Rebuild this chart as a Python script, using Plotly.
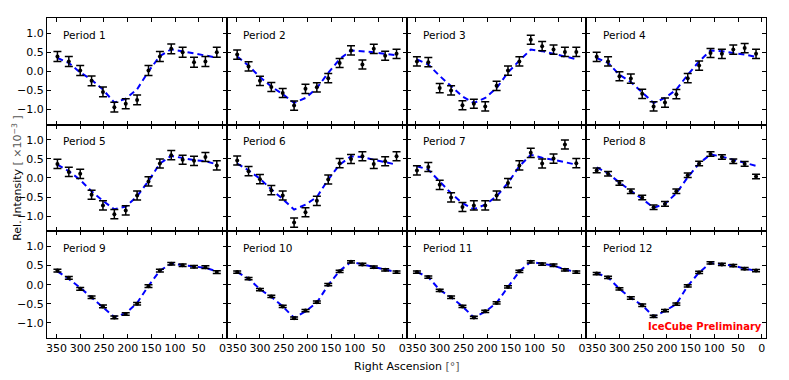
import plotly.graph_objects as go
from plotly.subplots import make_subplots

# bin centres in right ascension (deg)
ra_bins = [348, 324, 300, 276, 252, 228, 204, 180, 156, 132, 108, 84, 60, 36, 12]

period_names = ["Period %d" % i for i in range(1, 13)]

rel_intensity = [
    [0.39, 0.26, 0.02, -0.25, -0.54, -0.94, -0.85, -0.75, 0.02, 0.39, 0.59, 0.50, 0.24, 0.26, 0.50],
    [0.44, 0.13, -0.25, -0.41, -0.57, -0.90, -0.46, -0.42, -0.18, 0.22, 0.55, 0.18, 0.59, 0.41, 0.46],
    [0.26, 0.24, -0.44, -0.50, -0.89, -0.85, -0.92, -0.38, 0.02, 0.26, 0.83, 0.66, 0.57, 0.51, 0.51],
    [0.38, 0.26, -0.13, -0.19, -0.59, -0.92, -0.82, -0.60, -0.18, 0.15, 0.48, 0.46, 0.57, 0.61, 0.46],
    [0.37, 0.16, 0.11, -0.44, -0.72, -0.95, -0.85, -0.46, -0.09, 0.38, 0.60, 0.48, 0.45, 0.55, 0.33],
    [0.46, 0.18, -0.03, -0.32, -0.46, -1.17, -0.90, -0.60, -0.04, 0.39, 0.50, 0.57, 0.37, 0.44, 0.57],
    [0.20, 0.29, -0.18, -0.51, -0.76, -0.72, -0.72, -0.46, -0.13, 0.33, 0.66, 0.38, 0.51, 0.88, 0.39],
    [0.20, 0.11, -0.13, -0.35, -0.51, -0.77, -0.68, -0.35, 0.07, 0.38, 0.63, 0.55, 0.44, 0.37, 0.04],
    [0.37, 0.18, -0.11, -0.33, -0.57, -0.86, -0.77, -0.50, -0.04, 0.37, 0.55, 0.51, 0.47, 0.46, 0.33],
    [0.33, 0.16, -0.13, -0.31, -0.57, -0.88, -0.68, -0.46, 0.00, 0.35, 0.60, 0.53, 0.46, 0.39, 0.33],
    [0.33, 0.20, -0.15, -0.33, -0.57, -0.86, -0.70, -0.48, -0.06, 0.35, 0.60, 0.54, 0.51, 0.39, 0.33],
    [0.29, 0.19, -0.11, -0.35, -0.54, -0.83, -0.68, -0.51, -0.03, 0.32, 0.57, 0.53, 0.50, 0.42, 0.37],
]

# one statistical error per period
period_err = [0.13, 0.12, 0.12, 0.12, 0.12, 0.12, 0.12, 0.06, 0.035, 0.03, 0.03, 0.03]

fit_values = [
    [0.35, 0.22, -0.03, -0.22, -0.48, -0.82, -0.72, -0.47, 0.00, 0.40, 0.58, 0.52, 0.46, 0.42, 0.36],
    [0.39, 0.15, -0.15, -0.40, -0.60, -0.83, -0.70, -0.44, -0.04, 0.32, 0.55, 0.53, 0.50, 0.46, 0.42],
    [0.31, 0.18, -0.12, -0.40, -0.66, -0.83, -0.70, -0.44, -0.03, 0.28, 0.57, 0.53, 0.46, 0.39, 0.32],
    [0.35, 0.22, -0.09, -0.28, -0.55, -0.83, -0.70, -0.48, -0.09, 0.26, 0.55, 0.53, 0.48, 0.44, 0.38],
    [0.35, 0.18, -0.05, -0.35, -0.60, -0.82, -0.75, -0.48, -0.08, 0.38, 0.58, 0.52, 0.47, 0.44, 0.36],
    [0.38, 0.20, -0.02, -0.30, -0.55, -0.83, -0.70, -0.50, -0.04, 0.35, 0.57, 0.55, 0.48, 0.41, 0.35],
    [0.31, 0.22, -0.09, -0.40, -0.66, -0.82, -0.70, -0.48, -0.13, 0.31, 0.61, 0.53, 0.48, 0.41, 0.35],
    [0.28, 0.12, -0.12, -0.33, -0.55, -0.78, -0.68, -0.40, 0.02, 0.38, 0.62, 0.56, 0.48, 0.42, 0.32],
    [0.35, 0.15, -0.08, -0.33, -0.58, -0.85, -0.75, -0.48, -0.03, 0.37, 0.55, 0.52, 0.48, 0.44, 0.35],
    [0.33, 0.16, -0.12, -0.32, -0.57, -0.87, -0.70, -0.47, -0.01, 0.36, 0.60, 0.53, 0.46, 0.39, 0.33],
    [0.33, 0.20, -0.14, -0.33, -0.57, -0.86, -0.71, -0.48, -0.06, 0.35, 0.60, 0.54, 0.50, 0.40, 0.33],
    [0.30, 0.19, -0.11, -0.35, -0.54, -0.84, -0.69, -0.51, -0.03, 0.32, 0.57, 0.53, 0.50, 0.42, 0.37],
]

x_ticks = [0, 50, 100, 150, 200, 250, 300, 350]
y_ticks = [-1.0, -0.5, 0.0, 0.5, 1.0]
y_ticktext = ["\u22121.0", "\u22120.5", "0.0", "0.5", "1.0"]

FONT = "DejaVu Sans"

fig = make_subplots(rows=3, cols=4, horizontal_spacing=0, vertical_spacing=0)

for i, name in enumerate(period_names):
    r, c = i // 4 + 1, i % 4 + 1

    fig.add_hline(y=0, line=dict(color="black", width=1.5, dash="5px,3px"), row=r, col=c)

    fig.add_trace(
        go.Scatter(
            x=ra_bins,
            y=fit_values[i],
            mode="lines",
            line=dict(color="#0000ff", width=2, dash="6px,4px"),
            showlegend=False,
        ),
        row=r, col=c,
    )
    fig.add_trace(
        go.Scatter(
            x=ra_bins,
            y=rel_intensity[i],
            mode="markers",
            marker=dict(color="black", size=4),
            error_y=dict(type="constant", value=period_err[i], color="black",
                         thickness=1.5, width=4),
            showlegend=False,
        ),
        row=r, col=c,
    )

    fig.add_annotation(
        text=name, xref="x domain" if i == 0 else "x%d domain" % (i + 1),
        yref="y domain" if i == 0 else "y%d domain" % (i + 1),
        x=0.08, y=0.845, xanchor="left", yanchor="middle", showarrow=False,
        font=dict(family=FONT, size=10.5, color="black"),
    )

    fig.update_xaxes(
        range=[370, -9], tickvals=x_ticks, showticklabels=(r == 3),
        ticks="inside", ticklen=4, tickcolor="black", tickwidth=1,
        showline=True, linecolor="black", linewidth=1, mirror="allticks",
        showgrid=False, zeroline=False,
        tickfont=dict(family=FONT, size=11, color="black"),
        row=r, col=c,
    )
    fig.update_yaxes(
        range=[-1.4, 1.4], tickvals=y_ticks, ticktext=y_ticktext,
        showticklabels=(c == 1),
        ticks="inside", ticklen=4, tickcolor="black", tickwidth=1,
        showline=True, linecolor="black", linewidth=1, mirror="allticks",
        showgrid=False, zeroline=False,
        tickfont=dict(family=FONT, size=11, color="black"),
        row=r, col=c,
    )

fig.add_annotation(
    text="IceCube Preliminary", xref="x12 domain", yref="y12 domain",
    x=0.99, y=0.105, xanchor="right", yanchor="middle", showarrow=False,
    font=dict(family=FONT, size=10, color="red", weight="bold"),
)
fig.add_annotation(
    text="Right Ascension <span style='color:#555'>[°]</span>", xref="paper", yref="paper",
    x=0.5, y=-0.0875, xanchor="center", yanchor="middle", showarrow=False,
    font=dict(family=FONT, size=11, color="black"),
)
fig.add_annotation(
    text="Rel. Intensity <span style='color:#555'>[ ×10<sup>−3</sup> ]</span>",
    xref="paper", yref="paper", x=-0.042, y=0.5, textangle=-90,
    xanchor="center", yanchor="middle", showarrow=False,
    font=dict(family=FONT, size=11, color="black"),
)

# the page body keeps its default 8px margin, so the figure is 8px smaller
fig.update_layout(
    width=781, height=372,
    margin=dict(l=39, r=23, t=10, b=42),
    paper_bgcolor="white", plot_bgcolor="white",
    font=dict(family=FONT, size=11, color="black"),
)

fig.write_html("out.html")
